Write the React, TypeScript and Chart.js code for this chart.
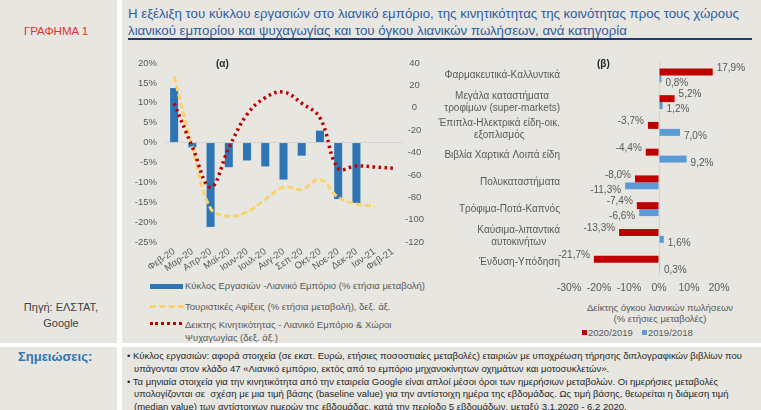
import React, { useEffect, useRef } from 'react';
import { Chart, registerables } from 'chart.js';
Chart.register(...registerables);

// ---------- Data (α) ----------
const months = ['Φεβ-20', 'Μαρ-20', 'Απρ-20', 'Μαϊ-20', 'Ιουν-20', 'Ιουλ-20', 'Αυγ-20', 'Σεπ-20', 'Οκτ-20', 'Νοε-20', 'Δεκ-20', 'Ιαν-21', 'Φεβ-21'];
const turnover = [13.7, -1.2, -21.2, -6.2, -4.5, -6.0, -9.3, -3.3, 3.0, -14.2, -15.2, null, null];
const tourism = [28, -35, -90, -97, -93, -82, -71, -73, -64, -80, -86, -88, null];
const mobility = [4, -35, -71, -36, -6, 9, 14, 4, -9, -54, -52, -53, -54];
const legendA = [
  'Κύκλος Εργασιών -Λιανικό Εμπόριο (% ετήσια μεταβολή)',
  'Τουριστικές Αφίξεις (% ετήσια μεταβολή), δεξ. άξ.',
  'Δεικτης Κινητικότητας - Λιανικό Εμπόριο & Χώροι',
  'Ψυχαγωγίας (δεξ. άξ.)',
];

// ---------- Data (β) ----------
const categories = [
  ['Φαρμακευτικά-Καλλυντικά'],
  ['Μεγάλα καταστήματα', 'τροφίμων (super-markets)'],
  ['Έπιπλα-Ηλεκτρικά είδη-οικ.', 'εξοπλισμός'],
  ['Βιβλία Χαρτικά Λοιπά είδη'],
  ['Πολυκαταστήματα'],
  ['Τρόφιμα-Ποτά-Καπνός'],
  ['Καύσιμα-λιπαντικά', 'αυτοκινήτων'],
  ['Ένδυση-Υπόδηση'],
];
const vol2020 = [17.9, 5.2, -3.7, -4.4, -8.0, -7.4, -13.3, -21.7];
const vol2019 = [0.8, 1.2, 7.0, 9.2, -11.3, -6.6, 1.6, 0.3];
const seriesB = ['2020/2019', '2019/2018'];

const BG = '#e7e6e1';
const GRAY = '#595959';
const FONT = '"Liberation Sans", Arial, sans-serif';
const BLUE = '#2e75b6';
const YELLOW = '#f9d26b';
const RED = '#c00000';
const LBLUE = '#5b9bd5';

const fmt = (v: number) => v.toFixed(1).replace('.', ',') + '%';

export default function App() {
  const aRef = useRef<HTMLCanvasElement>(null);
  const bRef = useRef<HTMLCanvasElement>(null);

  useEffect(() => {
    document.body.style.margin = '0';
    const ca = new Chart(aRef.current!, {
      type: 'bar',
      data: {
        labels: months,
        datasets: [
          {
            type: 'line',
            label: legendA[2],
            data: mobility,
            borderColor: RED,
            borderWidth: 3.5,
            borderDash: [2.5, 3.5],
            pointRadius: 0,
            tension: 0.4,
            yAxisID: 'y1',
            order: 1,
          } as any,
          {
            type: 'line',
            label: legendA[1],
            data: tourism,
            borderColor: YELLOW,
            borderWidth: 3,
            borderDash: [6, 3],
            pointRadius: 0,
            tension: 0.4,
            yAxisID: 'y1',
            order: 2,
          } as any,
          {
            type: 'bar',
            label: legendA[0],
            data: turnover,
            backgroundColor: BLUE,
            categoryPercentage: 0.5,
            barPercentage: 0.88,
            yAxisID: 'y',
            order: 3,
          } as any,
        ],
      },
      options: {
        responsive: false,
        animation: false,
        layout: { padding: { top: 18, left: 0, right: 0, bottom: 0 } },
        plugins: { legend: { display: false }, tooltip: { enabled: false } },
        scales: {
          x: {
            grid: { display: false, drawTicks: false },
            border: { display: false },
            ticks: {
              color: GRAY,
              font: { family: FONT, size: 9.5 },
              maxRotation: 35,
              minRotation: 35,
              autoSkip: false,
              padding: 4,
            },
            afterFit: (s: any) => { s.height = 40; },
          },
          y: {
            position: 'left',
            min: -25,
            max: 20,
            ticks: {
              stepSize: 5,
              color: GRAY,
              font: { family: FONT, size: 9.5 },
              padding: 8,
              callback: (v: any) => v + '%',
            },
            grid: {
              drawTicks: false,
              color: (ctx: any) => (ctx.tick && ctx.tick.value === 0 ? '#d4d3cf' : 'rgba(0,0,0,0)'),
            },
            border: { display: false },
            afterFit: (s: any) => { s.width = 43; },
          },
          y1: {
            position: 'right',
            min: -120,
            max: 40,
            ticks: {
              stepSize: 20,
              color: GRAY,
              font: { family: FONT, size: 9.5 },
              padding: 3,
              crossAlign: 'center',
            },
            grid: { display: false, drawTicks: false },
            border: { display: false },
            afterFit: (s: any) => { s.width = 28; },
          },
        },
      } as any,
    });

    const valueLabels = {
      id: 'valueLabels',
      afterDatasetsDraw(chart: any) {
        const ctx = chart.ctx;
        ctx.save();
        ctx.font = `10px ${FONT}`;
        ctx.fillStyle = GRAY;
        ctx.textBaseline = 'middle';
        chart.data.datasets.forEach((ds: any, di: number) => {
          const meta = chart.getDatasetMeta(di);
          meta.data.forEach((el: any, i: number) => {
            const v = ds.data[i];
            const y = di === 0 ? el.y - 4 : el.y + 4;
            if (v >= 0) {
              ctx.textAlign = 'left';
              ctx.fillText(fmt(v), el.x + 4, y);
            } else {
              ctx.textAlign = 'right';
              ctx.fillText(fmt(v), el.x - 4, y);
            }
          });
        });
        ctx.restore();
      },
    };

    const catLabels = {
      id: 'catLabels',
      afterDraw(chart: any) {
        const ctx = chart.ctx;
        const ys = chart.scales.y;
        ctx.save();
        ctx.font = `10px ${FONT}`;
        ctx.fillStyle = GRAY;
        ctx.textBaseline = 'middle';
        ctx.textAlign = 'center';
        const right = chart.chartArea.left - 9;
        categories.forEach((lines, i) => {
          const cy = ys.getPixelForValue(i);
          const w = Math.max(...lines.map((l) => ctx.measureText(l).width));
          const cx = right - w / 2;
          lines.forEach((l, j) => {
            ctx.fillText(l, cx, cy + (j - (lines.length - 1) / 2) * 12);
          });
        });
        ctx.restore();
      },
    };

    const cb = new Chart(bRef.current!, {
      type: 'bar',
      data: {
        labels: categories.map((c) => c.join(' ')),
        datasets: [
          { label: seriesB[0], data: vol2020, backgroundColor: RED },
          { label: seriesB[1], data: vol2019, backgroundColor: LBLUE },
        ],
      },
      options: {
        indexAxis: 'y',
        responsive: false,
        animation: false,
        layout: { padding: { left: 139, right: 42, top: 17, bottom: 0 } },
        datasets: { bar: { categoryPercentage: 0.52, barPercentage: 1 } },
        plugins: { legend: { display: false }, tooltip: { enabled: false } },
        scales: {
          x: {
            min: -30,
            max: 20,
            ticks: {
              stepSize: 10,
              color: GRAY,
              font: { family: FONT, size: 10.5 },
              padding: 6,
              maxRotation: 0,
              minRotation: 0,
              autoSkip: false,
              callback: (v: any) => v + '%',
            },
            grid: {
              drawTicks: false,
              color: (ctx: any) => (ctx.tick && ctx.tick.value === 0 ? '#d4d3cf' : 'rgba(0,0,0,0)'),
            },
            border: { display: false },
            afterFit: (s: any) => { s.height = 24; },
          },
          y: {
            ticks: { display: false },
            grid: { display: false, drawTicks: false },
            border: { display: false },
            afterFit: (s: any) => { s.width = 0; },
          },
        },
      } as any,
      plugins: [valueLabels, catLabels],
    });

    return () => {
      ca.destroy();
      cb.destroy();
    };
  }, []);

  const txt = (s: React.CSSProperties): React.CSSProperties => ({ position: 'absolute', whiteSpace: 'nowrap', ...s });

  return (
    <div style={{ position: 'absolute', left: 0, top: 0, width: 761, height: 410, background: '#fff', overflow: 'hidden', fontFamily: FONT }}>
      {/* panels */}
      <div style={{ position: 'absolute', left: 0, top: 0, width: 117, height: 343, background: BG }} />
      <div style={{ position: 'absolute', left: 122, top: 0, width: 639, height: 343, background: BG, overflow: 'hidden' }}>
        {/* legend α */}
        <div style={{ position: 'absolute', left: 28, top: 284, width: 33, height: 5, background: BLUE }} />
        <div style={txt({ left: 63, top: 280, fontSize: 9.5, lineHeight: '12px', color: GRAY })}>{legendA[0]}</div>
        <div style={{ position: 'absolute', left: 28, top: 305, width: 34, borderTop: `3px dashed ${YELLOW}` }} />
        <div style={txt({ left: 63, top: 301, fontSize: 9.5, lineHeight: '12px', color: GRAY })}>{legendA[1]}</div>
        <div style={{ position: 'absolute', left: 28, top: 322, width: 32, borderTop: `3px dotted ${RED}` }} />
        <div style={txt({ left: 63, top: 318, fontSize: 9.5, lineHeight: '13px', color: GRAY })}>
          {legendA[2]}
          <br />
          {legendA[3]}
        </div>
      </div>
      <div style={{ position: 'absolute', left: 0, top: 347, width: 117, height: 63, background: BG }} />
      <div style={{ position: 'absolute', left: 122, top: 347, width: 639, height: 63, background: BG }} />

      {/* left column */}
      <div style={txt({ left: 0, width: 112, top: 24, textAlign: 'center', fontSize: 11.5, lineHeight: '14px', color: '#e2302f' })}>ΓΡΑΦΗΜΑ 1</div>
      <div style={txt({ left: 0, width: 122, top: 299, textAlign: 'center', fontSize: 11, lineHeight: '16px', color: '#404040' })}>
        Πηγή: ΕΛΣΤΑΤ,
        <br />
        Google
      </div>

      {/* title */}
      <div style={txt({ left: 128, top: 5, fontSize: 13.25, lineHeight: '17px', color: '#2f5c9e' })}>
        Η εξέλιξη του κύκλου εργασιών στο λιανικό εμπόριο, της κινητικότητας της κοινότητας προς τους χώρους
        <br />
        λιανικού εμπορίου και ψυχαγωγίας και του όγκου λιανικών πωλήσεων, ανά κατηγορία
      </div>
      <div style={{ position: 'absolute', left: 128, top: 38, width: 624, height: 2, background: '#1f3d74' }} />

      {/* charts */}
      <canvas ref={aRef} width={308} height={237} style={{ position: 'absolute', left: 122, top: 45, width: 308, height: 237 }} />
      <canvas ref={bRef} width={331} height={255} style={{ position: 'absolute', left: 430, top: 45, width: 331, height: 255 }} />

      <div style={txt({ left: 216, top: 58, fontSize: 10, fontWeight: 'bold', color: '#262626' })}>(α)</div>
      <div style={txt({ left: 597, top: 58, fontSize: 10, fontWeight: 'bold', color: '#262626' })}>(β)</div>

      {/* legend β */}
      <div style={txt({ left: 560, width: 200, top: 302, textAlign: 'center', fontSize: 9.5, lineHeight: '11px', color: GRAY })}>
        Δείκτης όγκου λιανικών πωλήσεων
        <br />
        (% ετήσιες μεταβολές)
      </div>
      <div style={{ position: 'absolute', left: 582, top: 330, width: 5, height: 5, background: RED }} />
      <div style={txt({ left: 588, top: 327, fontSize: 9.5, lineHeight: '11px', color: GRAY })}>{seriesB[0]}</div>
      <div style={{ position: 'absolute', left: 642, top: 330, width: 5, height: 5, background: LBLUE }} />
      <div style={txt({ left: 648, top: 327, fontSize: 9.5, lineHeight: '11px', color: GRAY })}>{seriesB[1]}</div>

      {/* notes */}
      <div style={txt({ left: 18, top: 349, fontSize: 13, fontWeight: 'bold', color: '#2e75b6' })}>Σημειώσεις:</div>
      <div style={txt({ left: 127, top: 350, fontSize: 9.5, lineHeight: '12.75px', color: '#262626' })}>
        <div>• Κύκλος εργασιών: αφορά στοιχεία (σε εκατ. Ευρώ, ετήσιες ποσοστιαίες μεταβολές) εταιριών με υποχρέωση τήρησης διπλογραφικών βιβλίων που</div>
        <div style={{ paddingLeft: 7 }}>υπάγονται στον κλάδο 47 «Λιανικό εμπόριο, εκτός από το εμπόριο μηχανοκίνητων οχημάτων και μοτοσυκλετών».</div>
        <div>• Τα μηνιαία στοιχεία για την κινητικότητα από την εταιρεία Google είναι απλοί μέσοι όροι των ημερήσιων μεταβολών. Οι ημερήσιες μεταβολές</div>
        <div style={{ paddingLeft: 7 }}>υπολογίζονται σε&nbsp; σχέση με μια τιμή βάσης (baseline value) για την αντίστοιχη ημέρα της εβδομάδας. Ως τιμή βάσης, θεωρείται η διάμεση τιμή</div>
        <div style={{ paddingLeft: 7 }}>(median value) των αντίστοιχων ημερών της εβδομάδας, κατά την περίοδο 5 εβδομάδων, μεταξύ 3.1.2020 - 6.2 2020.</div>
      </div>
    </div>
  );
}
